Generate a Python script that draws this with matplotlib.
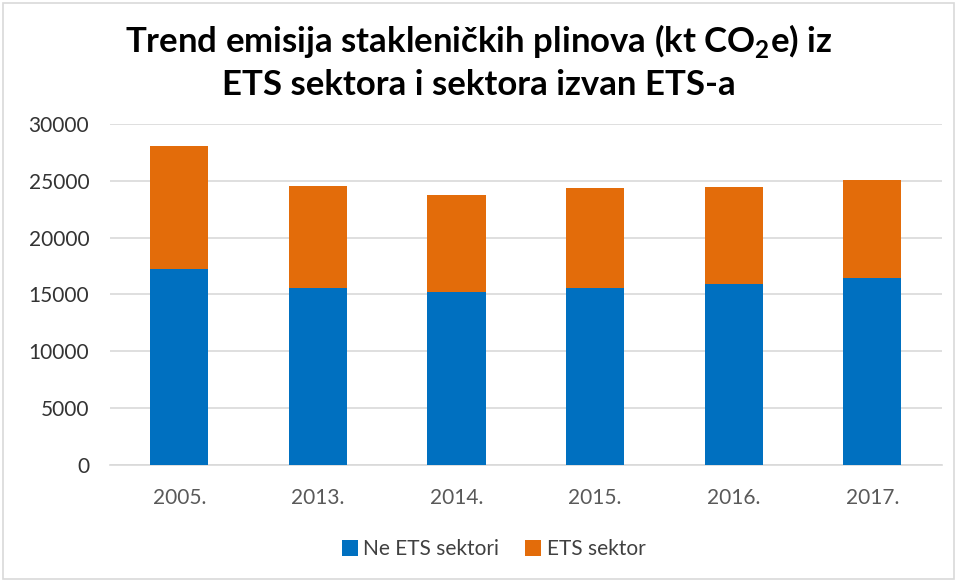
#!/usr/bin/env python3
"""
plot_emisije_ets.py
===================

Plots the trend of greenhouse gas emissions (kt CO2e) split into
ETS and non-ETS sectors as a stacked bar chart.
"""

import matplotlib.pyplot as plt
import numpy as np
from matplotlib.patches import Rectangle

def plot_emisije():
    godine = ["2005.", "2013.", "2014.", "2015.", "2016.", "2017."]
    ne_ets = np.array([17230, 15550, 15200, 15550, 15880, 16430]) # Ne ETS sektori
    ukupno = np.array([28080, 24560, 23770, 24330, 24450, 25030]) # total emissions
    ets = ukupno - ne_ets # ETS sektor

    plt.rcParams['font.family'] = ['Lato', 'DejaVu Sans']

    # Plotting
    fig = plt.figure(figsize=(9.57, 5.81), dpi=100)
    ax = fig.add_axes([0.115, 0.2002, 0.869, 0.5864])

    x = np.arange(len(godine))
    plt.bar(x, ne_ets, width=0.42, color='#0070C0', label='Ne ETS sektori', zorder=3)
    plt.bar(x, ets, width=0.42, bottom=ne_ets, color='#E36C0A', label='ETS sektor', zorder=3)

    plt.xlim(-0.5, len(godine) - 0.5)
    plt.ylim(0, 30000)
    plt.yticks(np.arange(0, 30001, 5000))
    plt.xticks(x, godine)
    plt.tick_params(axis='x', length=0, labelsize=15, colors='#595959', pad=17)
    plt.tick_params(axis='y', length=0, labelsize=15, colors='#333333', pad=15)

    plt.grid(axis='y', color='#D9D9D9', linewidth=1.2, zorder=0)
    for side in ['top', 'right', 'left']:
        ax.spines[side].set_visible(False)
    ax.spines['bottom'].set_color('#D9D9D9')
    ax.spines['bottom'].set_linewidth(1.2)

    # Title in two lines, with subscript for CO2
    fig.text(0.5, 0.9105, r'Trend emisija stakleničkih plinova (kt CO$_\mathregular{2}$e) iz',
             ha='center', va='baseline', fontsize=25, fontweight='bold', color='black')
    fig.text(0.5, 0.8365, 'ETS sektora i sektora izvan ETS-a',
             ha='center', va='baseline', fontsize=25, fontweight='bold', color='black')

    fig.legend(loc='center', bbox_to_anchor=(0.516, 0.055), ncol=2, frameon=False,
               fontsize=15, handlelength=0.77, handleheight=0.77, handletextpad=0.25,
               columnspacing=1.25, labelcolor='#404040')

    # Chart border
    fig.patches.append(Rectangle((0.003, 0.004), 0.994, 0.99, transform=fig.transFigure,
                                 fill=False, edgecolor='#D9D9D9', linewidth=1.2))

    plt.savefig("out.png", dpi=100)
    plt.close()

if __name__ == "__main__":
    plot_emisije()
